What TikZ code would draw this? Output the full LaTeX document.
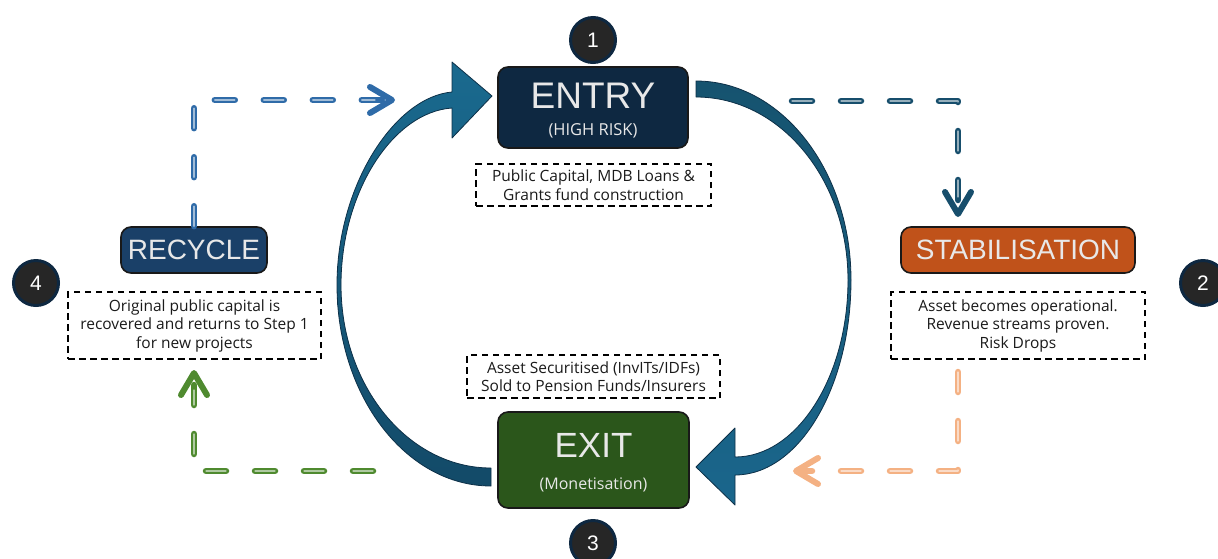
\documentclass[tikz,border=0pt]{standalone}
\usepackage{fontspec}
\setmainfont{Liberation Sans}
\newfontfamily\notefont{Open Sans}
\usetikzlibrary{arrows.meta}
\definecolor{entryc}{HTML}{0E2841}
\definecolor{recyc}{HTML}{1A4068}
\definecolor{stabc}{HTML}{C0521A}
\definecolor{exitc}{HTML}{2B561B}
\definecolor{txtc}{HTML}{E8E8E8}
\definecolor{numfill}{HTML}{262626}
\definecolor{arrline}{HTML}{0D3048}
\definecolor{arrA}{HTML}{1A6A8F}
\definecolor{arrB}{HTML}{134A68}
\definecolor{arrC}{HTML}{16536F}
\definecolor{arrD}{HTML}{1A668C}
\definecolor{blueln}{HTML}{2F6BA8}
\definecolor{tealln}{HTML}{174E6C}
\definecolor{salmln}{HTML}{F4B183}
\definecolor{greenln}{HTML}{4F8A2F}
\definecolor{notetxt}{HTML}{1A1A1A}
\begin{document}
\begin{tikzpicture}[x=1pt,y=-1pt,
  stage/.style={draw=black!90, line width=1.6, rounded corners=10, inner sep=0},
  stagetxt/.style={text=txtc, inner sep=0, anchor=center},
  note/.style={draw=black, line width=1.6, dash pattern=on 6.5 off 4.5, align=center, text=notetxt,
    font=\notefont\fontsize{15.5}{18.5}\selectfont, inner sep=0},
  num/.style={circle, fill=numfill, draw=entryc, line width=3, minimum size=45, inner sep=0,
    text=white, font=\fontsize{21}{21}\selectfont},
  conn/.style={line width=6.5, line cap=round, line join=round, draw=#1, dash pattern=on 20 off 29,
    -{Straight Barb[length=22,width=26,line width=6,round]},
    postaction={draw=white, draw opacity=0.55, line width=1.3, arrows=-, shorten >=20}},
  bigarrow/.style={draw=arrline, line width=0.8, line join=round}
]
\useasboundingbox (0,0) rectangle (1218,558);
\clip (0,0) rectangle (1218,558);

% big curved arrows
\path[bigarrow, top color=arrA, bottom color=arrB]
  (491,486) .. controls (406,486) and (337,396) .. (337,285)
  .. controls (337,185) and (395,97) .. (452,92)
  -- (452,62) -- (492,96) -- (452,138) -- (452,108)
  .. controls (393,112) and (341,192) .. (341,285)
  .. controls (341,386) and (408,468) .. (491,468) -- cycle;
\path[bigarrow, top color=arrC, bottom color=arrD]
  (696,81) .. controls (781,81) and (851,170) .. (851,280)
  .. controls (851,387) and (799,475) .. (735,475)
  -- (735,505) -- (696,467) -- (735,428) -- (735,457)
  .. controls (797,457) and (848,377) .. (848,280)
  .. controls (848,179) and (780,97) .. (696,97) -- cycle;

% stage boxes
\node[stage, fill=entryc, minimum width=190, minimum height=81] (entry) at (593,107.5) {};
\node[stagetxt, font=\fontsize{37}{37}\selectfont] (entryt) at (593,96) {ENTRY};
\node[stagetxt, font=\notefont\fontsize{16.5}{17}\selectfont] (entrys) at (593,131) {(HIGH RISK)};

\node[stage, fill=exitc, minimum width=191, minimum height=96] (exit) at (593.5,460) {};
\node[stagetxt, font=\fontsize{35}{35}\selectfont] (exitt) at (593.5,445) {EXIT};
\node[stagetxt, font=\notefont\fontsize{16}{17}\selectfont] (exits) at (593.5,485) {(Monetisation)};

\node[stage, fill=stabc, minimum width=234, minimum height=46] (stab) at (1018,250) {};
\node[stagetxt, font=\fontsize{28}{28}\selectfont] (stabt) at (1018,250) {STABILISATION};

\node[stage, fill=recyc, minimum width=146, minimum height=46] (recycle) at (194,250) {};
\node[stagetxt, font=\fontsize{28}{28}\selectfont] (recyt) at (194,250) {RECYCLE};

% notes
\node[note, minimum width=235, minimum height=42] (entrynote) at (593.5,185)
  {Public Capital, MDB Loans \&\\Grants fund construction};
\node[note, minimum width=253, minimum height=43] (exitnote) at (593.5,376.5)
  {Asset Securitised (InvITs/IDFs)\\Sold to Pension Funds/Insurers};
\node[note, minimum width=254, minimum height=67] (stabnote) at (1018,325.5)
  {Asset becomes operational.\\Revenue streams proven.\\Risk Drops};
\node[note, minimum width=253, minimum height=67] (recynote) at (194.5,325.5)
  {Original public capital is\\recovered and returns to Step 1\\for new projects};

% numbers
\node[num] (n1) at (593,40) {1};
\node[num] (n2) at (1203,283) {2};
\node[num] (n3) at (593,543) {3};
\node[num] (n4) at (36,283) {4};

% dashed connectors
\coordinate (btip) at (395,100);
\coordinate (t0) at (792,101);
\coordinate (ttip) at (958,217);
\coordinate (s0) at (958,372);
\coordinate (stip) at (793,471);
\coordinate (g0) at (373,471);
\coordinate (gtip) at (194,370);

\draw[conn=blueln] (recycle.north) |- (btip);
\draw[conn=tealln] (t0) -| (ttip);
\draw[conn=salmln] (s0) |- (stip);
\draw[conn=greenln] (g0) -| (gtip);
\end{tikzpicture}
\end{document}
